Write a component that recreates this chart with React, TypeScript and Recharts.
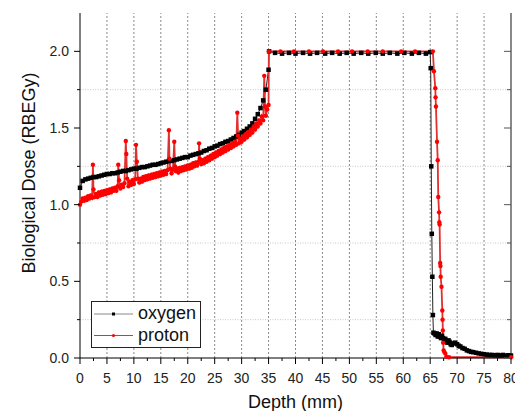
import React from 'react';
import { LineChart, Line, XAxis, YAxis, ReferenceLine, Legend } from 'recharts';

const FONT = '"Liberation Sans", Arial, sans-serif';

// ---- data (depth mm, biological dose RBEGy) ----
const oxygenEntrance: [number, number][] = [
  [0, 1.11], [0.5, 1.155], [1, 1.165], [1.5, 1.17], [2, 1.175], [2.5, 1.18], [3, 1.18], [3.5, 1.185], [4, 1.19], [4.5, 1.195],
  [5, 1.2], [5.5, 1.2], [6, 1.205], [6.5, 1.205], [7, 1.21], [7.5, 1.215], [8, 1.22], [8.5, 1.22], [9, 1.225], [9.5, 1.23],
  [10, 1.235], [10.5, 1.235], [11, 1.24], [11.5, 1.245], [12, 1.245], [12.5, 1.25], [13, 1.255], [13.5, 1.26], [14, 1.26], [14.5, 1.265],
  [15, 1.27], [15.5, 1.275], [16, 1.28], [16.5, 1.285], [17, 1.285], [17.5, 1.29], [18, 1.295], [18.5, 1.3], [19, 1.305], [19.5, 1.31],
  [20, 1.31], [20.5, 1.32], [21, 1.325], [21.5, 1.33], [22, 1.335], [22.5, 1.34], [23, 1.35], [23.5, 1.355], [24, 1.365], [24.5, 1.37],
  [25, 1.38], [25.5, 1.385], [26, 1.395], [26.5, 1.4], [27, 1.41], [27.5, 1.415], [28, 1.425], [28.5, 1.435], [29, 1.445], [29.5, 1.455],
  [30, 1.47], [30.5, 1.48], [31, 1.495], [31.5, 1.51], [32, 1.53], [32.5, 1.56], [33, 1.59], [33.5, 1.63], [34, 1.68], [34.5, 1.75],
  [35, 1.88],
];
const oxygenPlateau: [number, number][] = [
  [35.1, 2.0], [36.2, 1.99], [37.5, 1.985], [38.8, 1.99], [40.0, 1.985], [41.4, 1.99], [42.7, 1.985], [44.0, 1.99],
  [45.5, 1.985], [46.8, 1.99], [48.2, 1.985], [49.5, 1.99], [50.8, 1.985], [52.2, 1.99], [53.5, 1.985], [54.9, 1.99],
  [56.2, 1.985], [57.5, 1.99], [58.9, 1.985], [60.2, 1.99], [61.6, 1.985], [62.9, 1.99], [64.2, 1.985], [65.0, 1.995],
];
const oxygenFalloff: [number, number][] = [
  [65.1, 1.89], [65.2, 1.25], [65.3, 0.81], [65.4, 0.53], [65.5, 0.28], [65.6, 0.165], [65.8, 0.16], [66.0, 0.15],
  [66.2, 0.16], [66.4, 0.14], [66.6, 0.155], [66.8, 0.14], [67.0, 0.13], [67.2, 0.145], [67.4, 0.13], [67.6, 0.12],
  [67.8, 0.125], [68.0, 0.11], [68.2, 0.1], [68.4, 0.115], [68.6, 0.105], [68.8, 0.09], [69.0, 0.085], [69.3, 0.095],
  [69.6, 0.1], [70.0, 0.09], [70.3, 0.08], [70.6, 0.075], [71.0, 0.065], [71.4, 0.06], [71.8, 0.05], [72.2, 0.045],
  [72.6, 0.04], [73.0, 0.038], [73.5, 0.034], [74.0, 0.03], [74.5, 0.027], [75.0, 0.025], [75.5, 0.022], [76.0, 0.02],
  [76.5, 0.02], [77.0, 0.018], [77.5, 0.02], [78.0, 0.017], [78.5, 0.02], [79.0, 0.016], [79.5, 0.018], [80.0, 0.016],
];

const protonEntrance: [number, number][] = [
  [0, 1.0], [0.25, 1.02], [0.5, 1.04], [0.75, 1.025], [1, 1.045], [1.25, 1.03], [1.5, 1.055], [1.75, 1.04], [2, 1.06], [2.25, 1.045],
  [2.4, 1.26], [2.5, 1.1], [2.75, 1.05], [3, 1.07], [3.25, 1.05], [3.5, 1.08], [3.75, 1.06], [4, 1.085], [4.25, 1.065], [4.5, 1.09],
  [4.75, 1.07], [5, 1.095], [5.25, 1.075], [5.5, 1.1], [5.75, 1.08], [6, 1.105], [6.25, 1.09], [6.5, 1.11], [6.75, 1.09], [7, 1.12],
  [7.1, 1.26], [7.25, 1.16], [7.5, 1.105], [7.75, 1.13], [8, 1.115], [8.25, 1.14], [8.5, 1.415], [8.6, 1.33], [8.75, 1.17], [9, 1.12],
  [9.25, 1.15], [9.5, 1.13], [9.75, 1.16], [10, 1.135], [10.25, 1.165], [10.4, 1.39], [10.55, 1.28], [10.75, 1.17], [11, 1.145], [11.25, 1.17],
  [11.5, 1.15], [11.75, 1.18], [12, 1.16], [12.25, 1.185], [12.5, 1.165], [12.75, 1.19], [13, 1.17], [13.25, 1.195], [13.5, 1.175], [13.75, 1.2],
  [14, 1.18], [14.25, 1.205], [14.5, 1.185], [14.75, 1.21], [15, 1.19], [15.25, 1.215], [15.5, 1.195], [15.75, 1.22], [16, 1.2], [16.25, 1.225],
  [16.5, 1.485], [16.6, 1.3], [16.75, 1.235], [17, 1.205], [17.25, 1.23], [17.5, 1.41], [17.65, 1.25], [17.75, 1.22], [18, 1.235], [18.25, 1.21],
  [18.5, 1.24], [18.75, 1.22], [19, 1.245], [19.25, 1.225], [19.5, 1.25], [19.75, 1.23], [20, 1.255], [20.25, 1.235], [20.5, 1.26], [20.75, 1.24],
  [21, 1.27], [21.25, 1.25], [21.5, 1.275], [21.75, 1.255], [22, 1.28], [22.1, 1.4], [22.25, 1.3], [22.5, 1.265], [22.75, 1.29], [23, 1.27],
  [23.25, 1.3], [23.5, 1.28], [23.75, 1.31], [24, 1.29], [24.25, 1.32], [24.5, 1.3], [24.75, 1.33], [25, 1.31], [25.25, 1.34], [25.5, 1.32],
  [25.75, 1.35], [26, 1.33], [26.25, 1.36], [26.5, 1.34], [26.75, 1.37], [27, 1.35], [27.25, 1.38], [27.5, 1.36], [27.75, 1.39], [28, 1.37],
  [28.25, 1.4], [28.5, 1.38], [28.75, 1.41], [29, 1.39], [29.2, 1.6], [29.35, 1.45], [29.5, 1.4], [29.75, 1.43], [30, 1.41], [30.25, 1.445],
  [30.5, 1.425], [30.75, 1.46], [31, 1.44], [31.25, 1.475], [31.5, 1.455], [31.75, 1.49], [32, 1.47], [32.25, 1.51], [32.5, 1.49], [32.75, 1.53],
  [33, 1.51], [33.25, 1.55], [33.5, 1.53], [33.75, 1.575], [34, 1.55], [34.2, 1.84], [34.35, 1.64], [34.5, 1.58], [34.75, 1.62], [35, 1.65],
];
const protonPlateau: [number, number][] = [
  [35.05, 2.0], [37.2, 2.0], [39.7, 2.0], [42.5, 2.0], [45.1, 2.0], [47.9, 2.0],
  [50.5, 2.0], [53.4, 2.0], [56.2, 2.0], [59.6, 2.0], [62.2, 2.0], [65.5, 2.0],
];
const protonFalloff: [number, number][] = [
  [65.7, 1.87], [65.95, 1.76], [66.0, 1.7], [66.07, 1.64], [66.27, 1.41], [66.4, 1.29], [66.5, 1.05], [66.65, 0.95],
  [66.7, 0.886], [66.75, 0.87], [66.85, 0.62], [66.9, 0.6], [66.95, 0.53], [67.1, 0.465], [67.25, 0.31], [67.3, 0.25],
  [67.35, 0.18], [67.4, 0.1], [67.5, 0.05], [67.6, 0.04], [67.8, 0.03], [68.0, 0.008], [68.5, 0.005], [80, 0.005],
];

const xTicks = [0, 2.5, 5, 7.5, 10, 12.5, 15, 17.5, 20, 22.5, 25, 27.5, 30, 32.5, 35, 37.5, 40, 42.5, 45, 47.5, 50, 52.5, 55, 57.5, 60, 62.5, 65, 67.5, 70, 72.5, 75, 77.5, 80];
const yTicks = [0, 0.25, 0.5, 0.75, 1.0, 1.25, 1.5, 1.75, 2.0];
const xGrid = [5, 10, 15, 20, 25, 30, 35, 40, 45, 50, 55, 60, 65, 70, 75];
const yGrid = [0.25, 0.75, 1.25, 1.75];

const toRows = (pts: [number, number][]) => pts.map(([depth, dose]) => ({ depth, dose }));
const oxygenData = toRows([...oxygenEntrance, ...oxygenPlateau, ...oxygenFalloff]);
const protonData = toRows([...protonEntrance, ...protonPlateau, ...protonFalloff]);

const isMajorX = (v: number) => Math.abs(v / 5 - Math.round(v / 5)) < 1e-6;
const isMajorY = (v: number) => Math.abs(v * 2 - Math.round(v * 2)) < 1e-6;

const BottomTick = (p: any) => {
  const { x, y, payload } = p;
  const v = payload.value;
  const major = isMajorX(v);
  return (
    <g>
      <line x1={x} x2={x} y1={y} y2={y + (major ? 6 : 3)} stroke="#000" />
      {major && (
        <text x={x} y={y + 25} textAnchor="middle" fontSize={14} fill="#222" fontFamily={FONT}>{v}</text>
      )}
    </g>
  );
};
const TopTick = (p: any) => {
  const { x, y, payload } = p;
  const major = isMajorX(payload.value);
  return <line x1={x} x2={x} y1={y} y2={y + (major ? 5 : 2.5)} stroke="#333" />;
};
const LeftTick = (p: any) => {
  const { x, y, payload } = p;
  const v = payload.value;
  const major = isMajorY(v);
  return (
    <g>
      <line x1={x - (major ? 6 : 3)} x2={x} y1={y} y2={y} stroke="#000" />
      {major && (
        <text x={x - 11} y={y + 5} textAnchor="end" fontSize={14} fill="#222" fontFamily={FONT}>{v.toFixed(1)}</text>
      )}
    </g>
  );
};
const RightTick = (p: any) => {
  const { x, y, payload } = p;
  const major = isMajorY(payload.value);
  return <line x1={x - (major ? 7 : 4)} x2={x} y1={y} y2={y} stroke="#555" />;
};

const OxyDot = (p: any) => (
  <rect key={`o${p.index}`} x={p.cx - 2.25} y={p.cy - 2.25} width={4.5} height={4.5} fill="#000" />
);
const ProDot = (p: any) => (
  <circle key={`p${p.index}`} cx={p.cx} cy={p.cy} r={2.2} fill="#ff0000" />
);

const YLabel = () => (
  <text x={35} y={173} transform="rotate(-90 35 173)" textAnchor="middle" fontSize={18} fill="#111" fontFamily={FONT}>
    Biological Dose (RBEGy)
  </text>
);

const LegendBox = () => (
  <svg width={110} height={47} style={{ display: 'block' }}>
    <rect x={0.5} y={0.5} width={109} height={46} fill="#fff" stroke="#222" />
    <line x1={3} x2={42} y1={13} y2={13} stroke="#888" />
    <rect x={21} y={11.5} width={3} height={3} fill="#000" />
    <text x={47} y={18} fontSize={18} fill="#111" fontFamily={FONT}>oxygen</text>
    <line x1={3} x2={42} y1={34.5} y2={34.5} stroke="#e03030" />
    <circle cx={22.5} cy={34.5} r={1.6} fill="#ff0000" />
    <text x={47} y={40} fontSize={18} fill="#111" fontFamily={FONT}>proton</text>
  </svg>
);

export default function App() {
  return (
    <div style={{ position: 'absolute', left: 0, top: 0, width: 515, height: 411, background: '#fff' }}>
      <LineChart width={515} height={411} margin={{ top: 13, right: 0, bottom: 0, left: 0 }}>
        <XAxis
          xAxisId="b"
          type="number"
          dataKey="depth"
          domain={[0, 80]}
          ticks={xTicks}
          interval={0}
          tickSize={0}
          tickMargin={0}
          tickLine={false}
          tick={<BottomTick />}
          height={53}
          axisLine={{ stroke: '#000' }}
          label={{ value: 'Depth (mm)', position: 'insideBottom', offset: 3, fontSize: 18, fill: '#111', fontFamily: FONT }}
        />
        <XAxis
          xAxisId="t"
          orientation="top"
          type="number"
          dataKey="depth"
          domain={[0, 80]}
          ticks={xTicks}
          interval={0}
          tickSize={0}
          tickMargin={0}
          tickLine={false}
          tick={<TopTick />}
          height={0}
          axisLine={{ stroke: '#444' }}
        />
        <YAxis
          yAxisId="l"
          type="number"
          domain={[0, 2.25]}
          ticks={yTicks}
          interval={0}
          tickSize={0}
          tickMargin={0}
          tickLine={false}
          tick={<LeftTick />}
          width={80}
          axisLine={{ stroke: '#000' }}
          label={<YLabel />}
        />
        <YAxis
          yAxisId="r"
          orientation="right"
          type="number"
          domain={[0, 2.25]}
          ticks={yTicks}
          interval={0}
          tickSize={0}
          tickMargin={0}
          tickLine={false}
          tick={<RightTick />}
          width={4}
          axisLine={{ stroke: '#888', strokeWidth: 2 }}
        />
        {xGrid.map((v) => (
          <ReferenceLine key={`gx${v}`} xAxisId="b" yAxisId="l" x={v} stroke="#8a8a8a" strokeDasharray="2 2" />
        ))}
        {yGrid.map((v) => (
          <ReferenceLine key={`gy${v}`} xAxisId="b" yAxisId="l" y={v} stroke="#c8c8c8" strokeDasharray="1 1.5" />
        ))}
        <Line
          name="oxygen"
          xAxisId="b"
          yAxisId="l"
          data={oxygenData}
          dataKey="dose"
          type="linear"
          stroke="#222"
          strokeWidth={1}
          dot={OxyDot}
          activeDot={false}
          isAnimationActive={false}
        />
        <Line
          name="proton"
          xAxisId="t"
          yAxisId="r"
          data={protonData}
          dataKey="dose"
          type="linear"
          stroke="#e03030"
          strokeWidth={1.8}
          dot={ProDot}
          activeDot={false}
          isAnimationActive={false}
        />
        <Legend
          layout="horizontal"
          verticalAlign="middle"
          align="center"
          content={() => <LegendBox />}
          wrapperStyle={{ left: 91, top: 301, width: 110, height: 47 }}
        />
      </LineChart>
    </div>
  );
}
